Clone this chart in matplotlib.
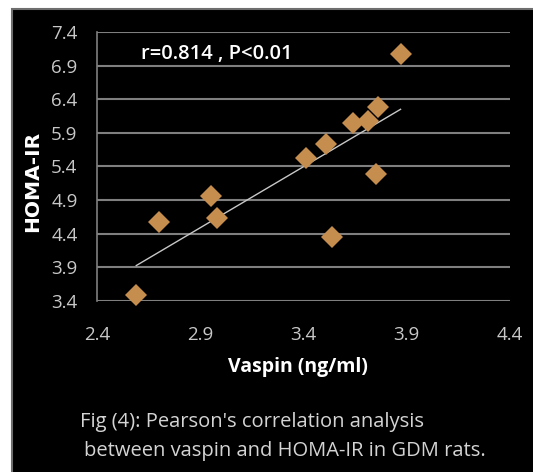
import matplotlib
matplotlib.use('Agg')
import matplotlib.pyplot as plt
import numpy as np
from matplotlib.patches import Rectangle

# --- data ---
vaspin = [2.59, 2.70, 2.95, 2.98, 3.41, 3.51, 3.54, 3.64, 3.71, 3.76, 3.75, 3.87]
homa = [3.49, 4.58, 4.96, 4.64, 5.52, 5.74, 4.35, 6.05, 6.07, 6.29, 5.29, 7.08]

x_ticks = [2.4, 2.9, 3.4, 3.9, 4.4]
y_ticks = [3.4, 3.9, 4.4, 4.9, 5.4, 5.9, 6.4, 6.9, 7.4]

# --- colours ---
BG = '#000000'
MARKER = '#C68E4E'
GRID = '#7F7F7F'
TICK = '#C8C8C8'
TEXT = '#FFFFFF'
CAPTION = '#D4D4D4'

plt.rcParams['font.family'] = ['Open Sans', 'DejaVu Sans']

fig = plt.figure(figsize=(5.33, 4.72), dpi=100)
fig.patch.set_facecolor('white')

# black panel with a thin grey border
panel = Rectangle((12 / 533, -0.05), 1.1, 1 - 9 / 472 + 0.05,
                  transform=fig.transFigure, facecolor=BG,
                  edgecolor='#6E6E6E', linewidth=1.5, zorder=0)
fig.add_artist(panel)

ax = fig.add_axes([97 / 533, 1 - 301 / 472, (510 - 97) / 533, (301 - 32) / 472])
ax.set_facecolor('none')

ax.set_xlim(2.4, 4.4)
ax.set_ylim(3.4, 7.4)
ax.set_xticks(x_ticks)
ax.set_yticks(y_ticks)
ax.set_xticklabels([f'{v:.1f}' for v in x_ticks])
ax.set_yticklabels([f'{v:.1f}' for v in y_ticks])
ax.tick_params(length=0, colors=TICK, labelsize=13.5)
ax.tick_params(axis='x', pad=18)
ax.tick_params(axis='y', pad=14)

ax.grid(axis='y', color=GRID, linewidth=1.5)
ax.set_axisbelow(True)
for side in ['top', 'right', 'bottom']:
    ax.spines[side].set_visible(False)
ax.spines['left'].set_color(GRID)
ax.spines['left'].set_linewidth(1.2)

# linear trendline
slope, inter = np.polyfit(vaspin, homa, 1)
xs = np.array([min(vaspin), max(vaspin)])
ax.plot(xs, slope * xs + inter, color='#C8C8C8', linewidth=1.0, zorder=2)

ax.plot(vaspin, homa, linestyle='none', marker='D', markersize=11.5,
        color=MARKER, markeredgewidth=0, zorder=3, clip_on=False)

ax.text(0.107, 0.918, 'r=0.814 , P<0.01', transform=ax.transAxes,
        color=TEXT, fontsize=14.5, fontweight='semibold', ha='left', va='center')

ax.set_xlabel('Vaspin (ng/ml)', color=TEXT, fontsize=14, fontweight='bold')
ax.xaxis.set_label_coords(0.487, -0.208)
ax.set_ylabel('HOMA-IR', color=TEXT, fontsize=14.5, fontweight='bold',
              family='DejaVu Sans')
ax.yaxis.set_label_coords(-0.133, 0.444)

fig.text(80 / 533, 1 - 422 / 472, "Fig (4): Pearson's correlation analysis",
         color=CAPTION, fontsize=14.5, ha='left', va='center')
fig.text(84 / 533, 1 - 451 / 472, 'between vaspin and HOMA-IR in GDM rats.',
         color=CAPTION, fontsize=14.5, ha='left', va='center')

fig.savefig('out.png', dpi=100, facecolor='white')
